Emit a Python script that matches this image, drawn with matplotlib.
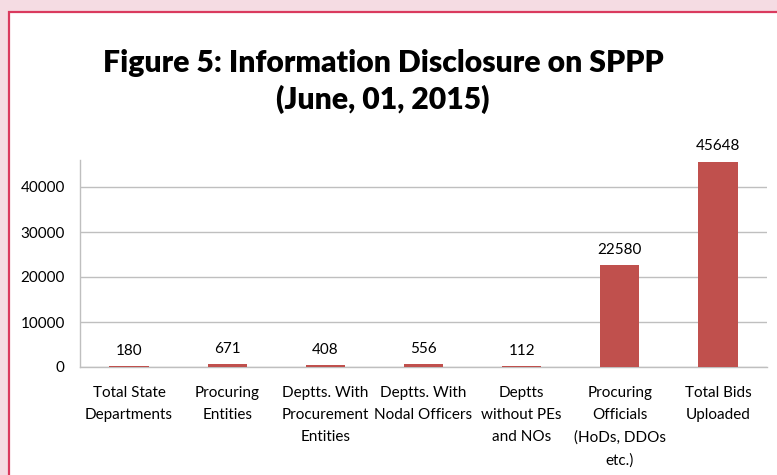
import matplotlib
matplotlib.use("Agg")
import matplotlib.pyplot as plt
from matplotlib.patches import Rectangle

categories = ["Total State\nDepartments", "Procuring\nEntities", "Deptts. With\nProcurement\nEntities",
              "Deptts. With\nNodal Officers", "Deptts\nwithout PEs\nand NOs",
              "Procuring\nOfficials\n(HoDs, DDOs\netc.)", "Total Bids\nUploaded"]
values = [180, 671, 408, 556, 112, 22580, 45648]
yticks = [0, 10000, 20000, 30000, 40000]

W, H = 777, 475
fig = plt.figure(figsize=(W / 100, H / 100), dpi=100)
fig.patch.set_facecolor("#F5DCE3")
fig.patches.append(Rectangle((9 / W, -0.1), 1.2, 1 - 12 / H + 0.1, transform=fig.transFigure,
                             facecolor="white", edgecolor="#DA3A5E", linewidth=1.6, zorder=-5))

ax = fig.add_axes([80 / W, 1 - 367 / H, (767 - 80) / W, (367 - 160) / H], zorder=2)
ax.set_facecolor("none")
x = list(range(len(values)))
bars = ax.bar(x, values, width=0.4, color="#C0504D", zorder=3)
ax.set_xlim(-0.5, len(values) - 0.5)
ax.set_ylim(0, 46000)
ax.set_yticks(yticks)
ax.set_yticklabels([str(v) for v in yticks])
ax.set_xticks(x)
ax.set_xticklabels(categories, linespacing=1.72, va="top")
ax.tick_params(axis="both", length=0, labelsize=11)
ax.tick_params(axis="y", pad=11)
ax.tick_params(axis="x", pad=14)
for lbl in ax.get_xticklabels() + ax.get_yticklabels():
    lbl.set_family("Lato")
ax.grid(axis="y", color="#BFBFBF", linewidth=1.0, zorder=0)
for s in ["top", "right"]:
    ax.spines[s].set_visible(False)
for s in ["left", "bottom"]:
    ax.spines[s].set_color("#BFBFBF")
    ax.spines[s].set_linewidth(1.0)

for xi, v in zip(x, values):
    ax.annotate(str(v), (xi, v), xytext=(0, 6), textcoords="offset points",
                ha="center", va="bottom", fontsize=11, family="Lato")

fig.text(383 / W, 1 - 63 / H, "Figure 5: Information Disclosure on SPPP", ha="center", va="center",
         fontsize=21.7, fontweight="heavy", family="Lato")
fig.text(383 / W, 1 - 99 / H, "(June, 01, 2015)", ha="center", va="center",
         fontsize=21.7, fontweight="heavy", family="Lato")

fig.savefig("out.png", dpi=100, facecolor=fig.get_facecolor())
